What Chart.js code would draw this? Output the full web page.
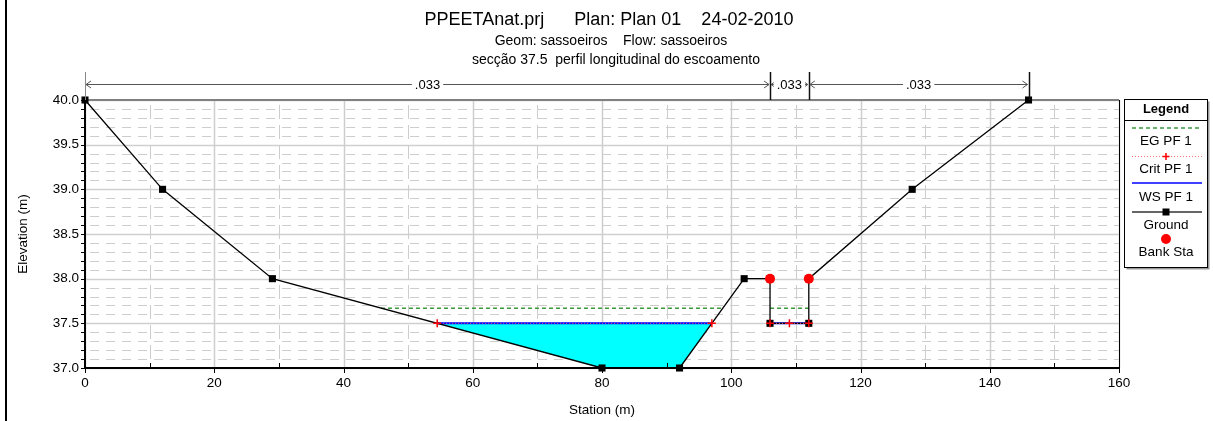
<!DOCTYPE html>
<html>
<head>
<meta charset="utf-8">
<script src="https://cdn.jsdelivr.net/npm/chart.js@4/dist/chart.umd.min.js"></script>
<style>
  html, body { margin: 0; padding: 0; background: #fff; }
  canvas { display: block; }
</style>
</head>
<body>
<canvas id="xsChart" width="1213" height="421"></canvas>
<script>
// cross section data (station m, elevation m)
const groundStation = [0, 12, 29, 80, 92, 102, 106, 106, 112, 112, 128, 146];
const groundElev = [40, 39, 38, 37, 37, 38, 38, 37.5, 37.5, 38, 39, 40];
const bankStation = [106, 112];
const bankElev = [38, 38];
const wsStation = [54.5, 97, null, 106, 112];
const wsElev = [37.5, 37.5, null, 37.5, 37.5];
const critStation = [54.5, 97, null, 106, 109, 112];
const critElev = [37.5, 37.5, null, 37.5, 37.5, 37.5];
const egStation = [45.8, 98.7, null, 106, 112];
const egElev = [37.67, 37.67, null, 37.67, 37.67];
// water body bottom (ground under the wetted part)
const bedStation = [54.5, 80, 92, 97];
const bedElev = [37.5, 37, 37, 37.5];
// manning n values across the top
const nStations = [0, 106, 112, 146];
const nValues = [".033", ".033", ".033"];

const titleLines = [
  "PPEETAnat.prj      Plan: Plan 01    24-02-2010",
  "Geom: sassoeiros    Flow: sassoeiros",
  "secção 37.5  perfil longitudinal do escoamento"
];
const legendItems = ["EG PF 1", "Crit PF 1", "WS PF 1", "Ground", "Bank Sta"];

const FONT = "'Liberation Sans', Arial, sans-serif";
Chart.defaults.font.family = FONT;

function pts(xs, ys) {
  return xs.map((x, i) => ({ x: x === null ? NaN : x, y: ys[i] === null ? null : ys[i] }));
}

const decorPlugin = {
  id: "decor",
  beforeDatasetsDraw(chart) {
    const { ctx, chartArea: a } = chart;
    const xs = chart.scales.x, ys = chart.scales.y;
    ctx.save();
    // horizontal grid
    ys.ticks.forEach(t => {
      const y = Math.round(ys.getPixelForValue(t.value)) + 0.5;
      const major = Math.round(t.value * 10) % 5 === 0;
      ctx.beginPath();
      ctx.strokeStyle = major ? "#cfcfcf" : "#cdcdcd";
      ctx.lineWidth = major ? 1.5 : 1;
      ctx.setLineDash(major ? [] : [9, 7]);
      ctx.lineDashOffset = -5;
      ctx.moveTo(a.left, y); ctx.lineTo(a.right, y);
      ctx.stroke();
    });
    // vertical grid
    xs.ticks.forEach(t => {
      const x = Math.round(xs.getPixelForValue(t.value)) + 0.5;
      const major = t.value % 20 === 0;
      ctx.beginPath();
      ctx.strokeStyle = "#cdcdcd";
      ctx.lineWidth = major ? 1.5 : 1;
      ctx.setLineDash(major ? [] : [14, 6]);
      ctx.moveTo(x, a.top); ctx.lineTo(x, a.bottom);
      ctx.stroke();
    });
    // top frame (under the ground markers)
    ctx.setLineDash([]);
    ctx.lineWidth = 2;
    ctx.strokeStyle = "#808080";
    ctx.beginPath(); ctx.moveTo(a.left, a.top); ctx.lineTo(a.right, a.top); ctx.stroke();
    ctx.restore();
  },
  afterDatasetsDraw(chart) {
    const { ctx, chartArea: a } = chart;
    const xs = chart.scales.x, ys = chart.scales.y;
    ctx.save();
    ctx.setLineDash([]);
    // frame
    ctx.lineWidth = 2;
    ctx.strokeStyle = "#000";
    ctx.beginPath(); ctx.moveTo(a.left, a.top + 3); ctx.lineTo(a.left, a.bottom); ctx.lineTo(a.right, a.bottom); ctx.stroke();
    ctx.lineWidth = 1;
    ctx.beginPath(); ctx.moveTo(a.right + 0.5, a.top); ctx.lineTo(a.right + 0.5, a.bottom); ctx.stroke();
    // tick marks
    ctx.strokeStyle = "#000";
    ctx.lineWidth = 1;
    ys.ticks.forEach(t => {
      const y = Math.round(ys.getPixelForValue(t.value)) + 0.5;
      ctx.beginPath(); ctx.moveTo(a.left - 4, y); ctx.lineTo(a.left, y); ctx.stroke();
    });
    xs.ticks.forEach(t => {
      const x = Math.round(xs.getPixelForValue(t.value)) + 0.5;
      const major = t.value % 20 === 0;
      ctx.beginPath();
      if (major) { ctx.moveTo(x, a.bottom); ctx.lineTo(x, a.bottom + 5); }
      else { ctx.moveTo(x, a.bottom); ctx.lineTo(x, a.bottom - 5); }
      ctx.stroke();
    });
    // n value dimension lines
    const dimY = 84.5;
    ctx.font = "13px " + FONT;
    ctx.textAlign = "center";
    ctx.textBaseline = "middle";
    nStations.forEach(s => {
      const x = Math.round(xs.getPixelForValue(s)) + 0.5;
      ctx.strokeStyle = s === 0 ? "#888" : "#111";
      ctx.lineWidth = s === 0 ? 1 : 1.5;
      ctx.beginPath(); ctx.moveTo(x, 72); ctx.lineTo(x, a.top); ctx.stroke();
    });
    for (let i = 0; i < nValues.length; i++) {
      const x0 = xs.getPixelForValue(nStations[i]) + 1;
      const x1 = xs.getPixelForValue(nStations[i + 1]) - 1;
      ctx.strokeStyle = "#555";
      ctx.lineWidth = 1;
      ctx.beginPath(); ctx.moveTo(x0, dimY); ctx.lineTo(x1, dimY); ctx.stroke();
      ctx.beginPath();
      ctx.moveTo(x0 + 5, dimY - 3.5); ctx.lineTo(x0, dimY); ctx.lineTo(x0 + 5, dimY + 3.5);
      ctx.moveTo(x1 - 5, dimY - 3.5); ctx.lineTo(x1, dimY); ctx.lineTo(x1 - 5, dimY + 3.5);
      ctx.stroke();
      const cx = (x0 + x1) / 2;
      const w = ctx.measureText(nValues[i]).width;
      ctx.fillStyle = "#fff";
      ctx.fillRect(cx - w / 2 - 3, dimY - 6, w + 6, 12);
      ctx.fillStyle = "#000";
      ctx.fillText(nValues[i], cx, dimY + 0.5);
    }
    // titles
    ctx.fillStyle = "#000";
    ctx.font = "18px " + FONT;
    ctx.fillText(titleLines[0], 609, 20);
    ctx.font = "14px " + FONT;
    ctx.fillText(titleLines[1], 611, 41);
    ctx.fillText(titleLines[2], 616, 60);
    // axis titles
    ctx.font = "13.5px " + FONT;
    ctx.fillText("Station (m)", (a.left + a.right) / 2, 410);
    ctx.save();
    ctx.translate(23, (a.top + a.bottom) / 2);
    ctx.rotate(-Math.PI / 2);
    ctx.fillText("Elevation (m)", 0, 0);
    ctx.restore();
    // left frame line
    ctx.strokeStyle = "#000";
    ctx.lineWidth = 2;
    ctx.beginPath(); ctx.moveTo(6, 0); ctx.lineTo(6, 421); ctx.stroke();
    // legend
    const lx = 1124.5, lw = 83, ly = 99.5, lh = 168;
    ctx.fillStyle = "#999";
    ctx.fillRect(lx + 2, ly + 2, lw, lh);
    ctx.fillStyle = "#fff";
    ctx.fillRect(lx, ly, lw, lh);
    ctx.strokeStyle = "#000";
    ctx.lineWidth = 1;
    ctx.strokeRect(lx, ly, lw, lh);
    ctx.beginPath(); ctx.moveTo(lx, 120.5); ctx.lineTo(lx + lw, 120.5); ctx.stroke();
    const cx = lx + lw / 2, sx0 = 1132, sx1 = 1202;
    ctx.fillStyle = "#000";
    ctx.font = "bold 13px " + FONT;
    ctx.fillText("Legend", cx, 109);
    ctx.font = "13.5px " + FONT;
    const lineYs = [128, 156, 183, 212, 239];
    const textYs = [141, 169, 197, 225, 252];
    // EG
    ctx.strokeStyle = "#3a9a3a"; ctx.lineWidth = 1.5; ctx.setLineDash([4, 3]);
    ctx.beginPath(); ctx.moveTo(sx0, lineYs[0]); ctx.lineTo(sx1, lineYs[0]); ctx.stroke();
    // Crit
    ctx.strokeStyle = "#ff7070"; ctx.lineWidth = 1; ctx.setLineDash([1, 2]);
    ctx.beginPath(); ctx.moveTo(sx0, lineYs[1] + 0.5); ctx.lineTo(sx1, lineYs[1] + 0.5); ctx.stroke();
    ctx.setLineDash([]);
    ctx.strokeStyle = "#ff0000"; ctx.lineWidth = 1.5;
    ctx.beginPath(); ctx.moveTo(cx - 3.5, lineYs[1] + 0.5); ctx.lineTo(cx + 3.5, lineYs[1] + 0.5);
    ctx.moveTo(cx, lineYs[1] - 3); ctx.lineTo(cx, lineYs[1] + 4); ctx.stroke();
    // WS
    ctx.strokeStyle = "#0000ff"; ctx.lineWidth = 1.5;
    ctx.beginPath(); ctx.moveTo(sx0, lineYs[2]); ctx.lineTo(sx1, lineYs[2]); ctx.stroke();
    // Ground
    ctx.strokeStyle = "#333"; ctx.lineWidth = 1.5;
    ctx.beginPath(); ctx.moveTo(sx0, lineYs[3]); ctx.lineTo(sx1, lineYs[3]); ctx.stroke();
    ctx.fillStyle = "#000"; ctx.fillRect(cx - 3.5, lineYs[3] - 3.5, 7, 7);
    // Bank
    ctx.fillStyle = "#ff0000";
    ctx.beginPath(); ctx.arc(cx, lineYs[4], 5, 0, Math.PI * 2); ctx.fill();
    ctx.fillStyle = "#000";
    legendItems.forEach((t, i) => ctx.fillText(t, cx, textYs[i]));
    ctx.restore();
  }
};

const ctx = document.getElementById("xsChart").getContext("2d");
new Chart(ctx, {
  type: "scatter",
  data: {
    datasets: [
      {
        label: "water",
        data: pts(wsStation.slice(0, 2), wsElev.slice(0, 2)),
        showLine: true, borderWidth: 0, pointRadius: 0,
        backgroundColor: "#00ffff", fill: "+1", order: 7
      },
      {
        label: "bed",
        data: pts(bedStation, bedElev),
        showLine: true, borderWidth: 0, pointRadius: 0, fill: false, order: 8
      },
      {
        label: "EG PF 1",
        data: pts(egStation, egElev),
        showLine: true, borderColor: "#3a9a3a", borderWidth: 1.5, borderDash: [4, 3],
        pointRadius: 0, spanGaps: false, order: 5
      },
      {
        label: "WS PF 1",
        data: pts(wsStation, wsElev),
        showLine: true, borderColor: "#0000ff", borderWidth: 2,
        pointRadius: 0, spanGaps: false, order: 4
      },
      {
        label: "Ground",
        data: pts(groundStation, groundElev),
        showLine: true, borderColor: "#000", borderWidth: 1.3,
        pointStyle: "rect", pointRadius: 5, pointBackgroundColor: "#000",
        pointBorderWidth: 0, order: 3
      },
      {
        label: "Crit PF 1",
        data: pts(critStation, critElev),
        showLine: true, borderColor: "#ff6060", borderWidth: 1, borderDash: [1, 2],
        pointStyle: "cross", pointRadius: 4, pointBorderColor: "#ff0000",
        pointBorderWidth: 1.5, spanGaps: false, order: 2
      },
      {
        label: "Bank Sta",
        data: pts(bankStation, bankElev),
        showLine: false, pointRadius: 5, pointBackgroundColor: "#ff0000",
        pointBorderWidth: 0, order: 1
      }
    ]
  },
  options: {
    responsive: false,
    animation: false,
    clip: false,
    layout: { padding: { left: 0, right: 94, top: 100, bottom: 0 } },
    plugins: { legend: { display: false }, tooltip: { enabled: false } },
    scales: {
      x: {
        type: "linear", min: 0, max: 160,
        ticks: {
          stepSize: 10, autoSkip: false, maxRotation: 0, padding: 7,
          color: "#000", font: { size: 13.5 },
          callback: v => (v % 20 === 0 ? v : "")
        },
        grid: { drawOnChartArea: false, drawTicks: false },
        border: { display: false },
        afterFit(s) { s.height = 53; }
      },
      y: {
        type: "linear", min: 37, max: 40,
        ticks: {
          stepSize: 0.1, autoSkip: false, padding: 6,
          color: "#000", font: { size: 13.5 },
          callback: v => (Math.round(v * 10) % 5 === 0 ? v.toFixed(1) : "")
        },
        grid: { drawOnChartArea: false, drawTicks: false },
        border: { display: false },
        afterFit(s) { s.width = 85; }
      }
    }
  },
  plugins: [decorPlugin]
});
</script>
</body>
</html>
